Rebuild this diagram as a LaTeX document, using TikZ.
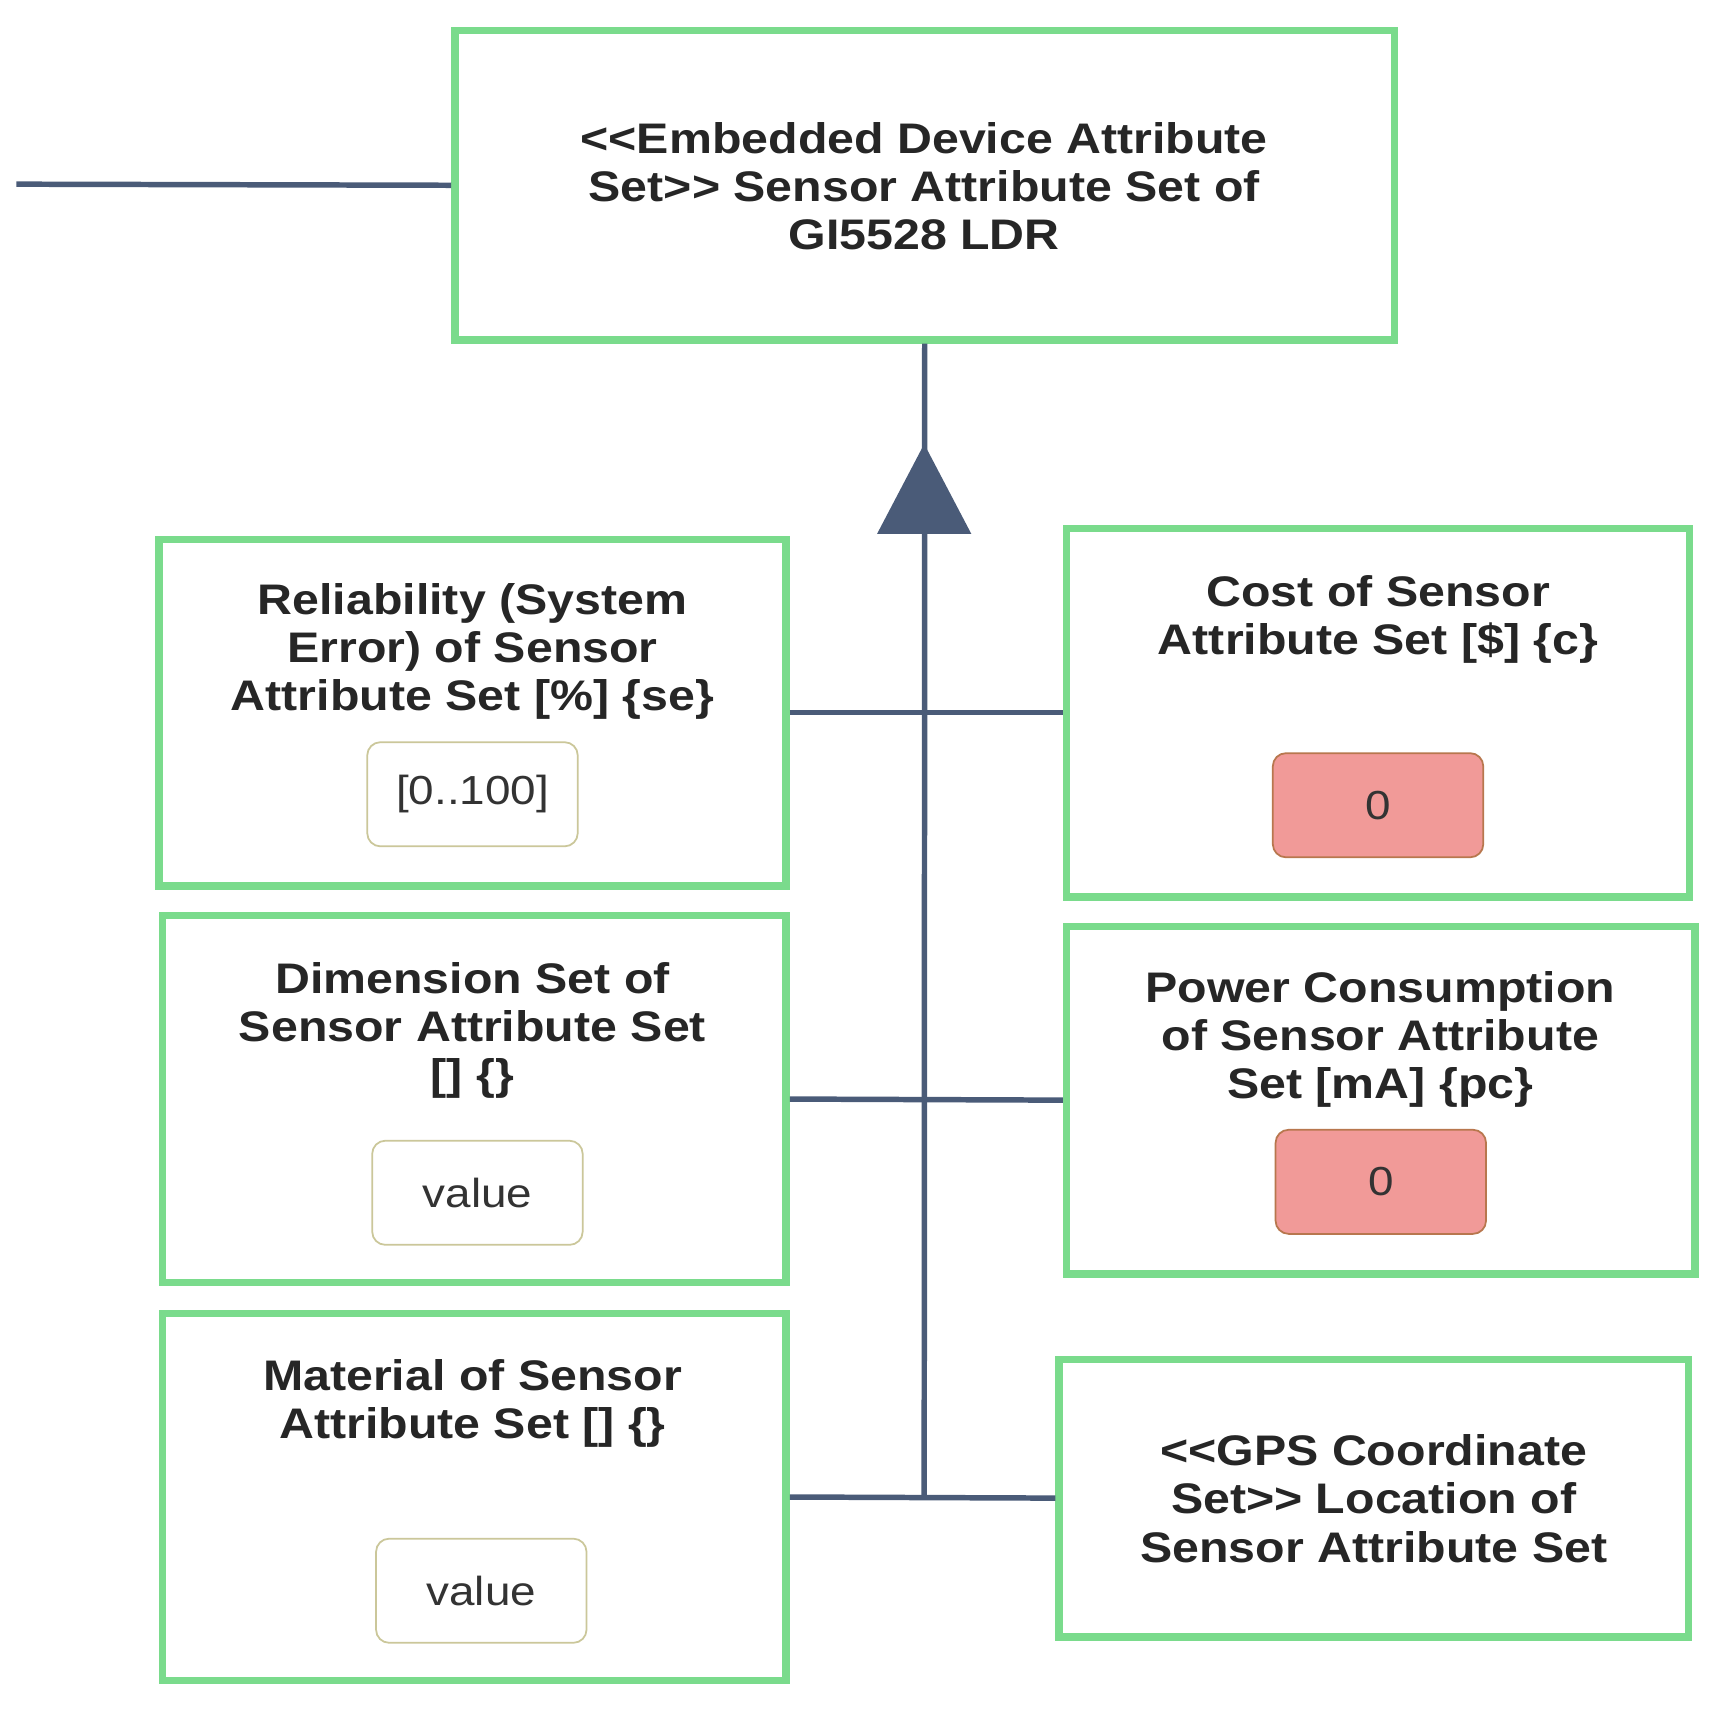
\documentclass[tikz,border=0pt]{standalone}
\usepackage{fontspec}
\setmainfont{Liberation Sans}[FakeStretch=1.13]
\begin{document}
\begin{tikzpicture}[x=0.5pt,y=-0.5pt,
  box/.style={draw=boxgreen, line width=3.4pt, fill=white, inner sep=0pt},
  lbl/.style={align=center, font=\fontsize{19.5}{22}\selectfont\bfseries, text=black!85},
  val/.style={draw=valborder, line width=0.8pt, rounded corners=6pt, minimum width=96pt, minimum height=47.5pt, font=\fontsize{18.5}{22}\selectfont, text=black!80, fill=white},
  red/.style={val, fill=redfill, draw=redborder},
  conn/.style={draw=lineblue, line width=2.5pt}]
\definecolor{boxgreen}{HTML}{7ADB8C}
\definecolor{lineblue}{HTML}{4A5B78}
\definecolor{redfill}{HTML}{F19A98}
\definecolor{redborder}{HTML}{B8774E}
\definecolor{valborder}{HTML}{CBC79A}
\useasboundingbox (0,0) rectangle (1568,1562);
\fill[white] (0,0) rectangle (1568,1562);
\node[box, minimum width=428.5pt, minimum height=141pt] (top) at (843.5,169) {};
\node[box, minimum width=286pt, minimum height=158pt] (rel) at (431,650) {};
\node[box, minimum width=284pt, minimum height=168pt] (cost) at (1257,650) {};
\node[box, minimum width=284.5pt, minimum height=167.5pt] (dim) at (432.5,1002.5) {};
\node[box, minimum width=286.5pt, minimum height=158.5pt] (pow) at (1259.5,1003.5) {};
\node[box, minimum width=284.5pt, minimum height=167.5pt] (mat) at (432.5,1365.5) {};
\node[box, minimum width=287pt, minimum height=126.5pt] (gps) at (1253,1366.5) {};
\node[lbl] (tt) at (843,170) {{<}{<}Embedded Device Attribute\\Set{>}{>} Sensor Attribute Set of\\GI5528 LDR};
\node[lbl] (rt) at (431,594) {Reliability (System\\Error) of Sensor\\Attribute Set [\%] \{se\}};
\node[lbl] (ct) at (1257,565) {Cost of Sensor\\Attribute Set [\$] \{c\}};
\node[lbl] (dt) at (431,940) {Dimension Set of\\Sensor Attribute Set\\{[]} \{\}};
\node[lbl] (pt) at (1259,948) {Power Consumption\\of Sensor Attribute\\Set [mA] \{pc\}};
\node[lbl] (mt) at (431,1280) {Material of Sensor\\Attribute Set [] \{\}};
\node[lbl] (gt) at (1253,1367) {{<}{<}GPS Coordinate\\Set{>}{>} Location of\\Sensor Attribute Set};
\node[val] (v1) at (431,724.5) {[0..100]};
\node[red] (r1) at (1257,734.5) {0};
\node[val] (v2) at (435.5,1088) {value};
\node[red] (r2) at (1259.5,1078) {0};
\node[val] (v3) at (439,1451) {value};
\coordinate (lft) at (15,168);
\coordinate (bot) at (843,1365);
\draw[conn] (lft) -- (top.west);
\draw[conn] (top.south) -- (bot);
\draw[conn] (rel.east) -- (cost.west);
\draw[conn] (dim.east) -- (pow.west);
\draw[conn] (mat.east) -- (gps.west);
\fill[lineblue] (843,405) -- (886,487) -- (800,487) -- cycle;
\end{tikzpicture}
\end{document}
